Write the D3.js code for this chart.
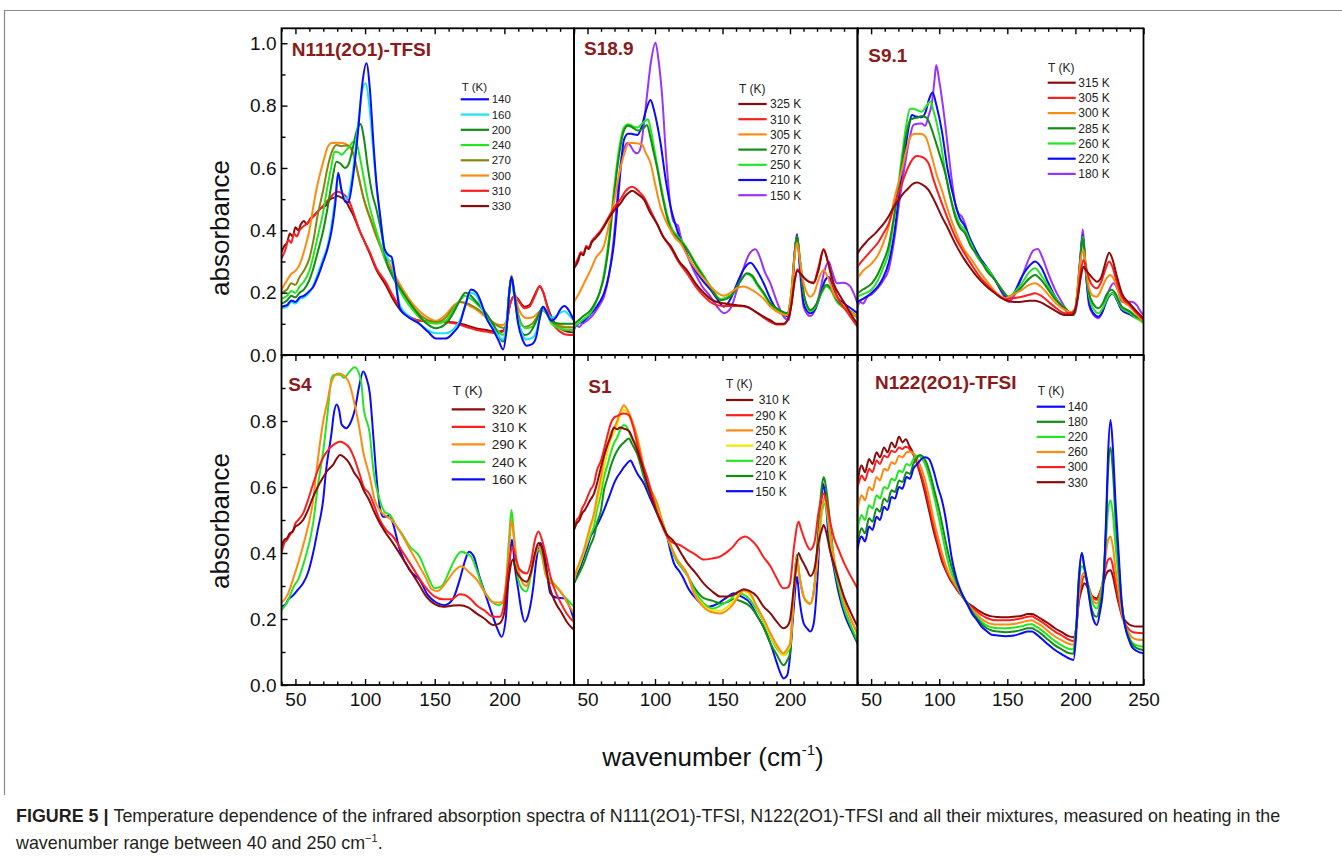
<!DOCTYPE html>
<html><head><meta charset="utf-8">
<script src="https://cdn.jsdelivr.net/npm/d3@7"></script>
<style>
body{margin:0;background:#fff}
svg{display:block}
text{font-family:"Liberation Sans",Arial,Helvetica,sans-serif}
</style>
</head><body>
<svg id="chart" width="1342" height="858"></svg>
<script>
// ---------------- DATA (wavenumber cm^-1, absorbance) ----------------
// Panel 1: N111(2O1)-TFSI
const n111Temps = ["140","160","200","240","270","300","310","330"];
const n111_140 = [[40,0.155],[44,0.16],[47,0.175],[50,0.17],[53,0.185],[56,0.19],[60,0.205],[63,0.22],[66,0.25],[70,0.30],[73,0.34],[76,0.40],[78.5,0.48],[80.7,0.585],[83,0.53],[86,0.49],[88,0.49],[91,0.56],[95,0.72],[98,0.87],[101,0.936],[103.5,0.85],[106,0.68],[108,0.56],[111,0.44],[114,0.34],[117,0.32],[119,0.315],[121,0.27],[124.9,0.15],[130,0.125],[139,0.10],[145,0.075],[151,0.053],[158,0.053],[164,0.075],[168,0.10],[172,0.16],[176,0.21],[180,0.20],[184,0.16],[187,0.12],[192,0.08],[196,0.045],[199,0.018],[201.5,0.08],[203.5,0.2],[205.1,0.25],[207,0.2],[209.9,0.10],[213,0.05],[215.8,0.03],[220,0.035],[223,0.06],[225.5,0.12],[227.8,0.155],[230,0.14],[233.8,0.11],[237,0.12],[240,0.145],[243.3,0.157],[246,0.145],[250,0.11]];
const n111_160 = [[40,0.15],[44,0.155],[47,0.17],[50,0.165],[53,0.18],[56,0.185],[60,0.2],[63,0.225],[66,0.26],[70,0.31],[73,0.35],[76,0.42],[78.5,0.5],[80.7,0.58],[83,0.53],[86,0.50],[88,0.51],[91,0.58],[95,0.74],[98,0.85],[100.5,0.872],[103,0.8],[106,0.65],[108,0.55],[111,0.44],[114,0.34],[117,0.305],[119,0.30],[121,0.26],[125,0.16],[130,0.13],[139,0.10],[145,0.08],[151,0.07],[158,0.07],[164,0.085],[168,0.11],[172,0.16],[176,0.20],[180,0.19],[184,0.15],[187,0.12],[192,0.085],[196,0.06],[199,0.05],[201.5,0.1],[203.5,0.2],[205.1,0.24],[207,0.19],[209.9,0.11],[213,0.065],[215.8,0.05],[220,0.055],[223,0.075],[225.5,0.12],[227.8,0.15],[230,0.14],[233.8,0.12],[237,0.125],[240,0.135],[243.3,0.14],[246,0.13],[250,0.11]];
const n111_200 = [[40,0.165],[44,0.175],[47,0.19],[50,0.185],[53,0.2],[56,0.21],[60,0.24],[63,0.28],[66,0.33],[70,0.40],[73,0.47],[76,0.55],[79.5,0.62],[82,0.615],[85.5,0.60],[88,0.61],[91,0.66],[94,0.72],[96.9,0.741],[99,0.7],[102,0.6],[105,0.52],[108,0.47],[111,0.41],[115.4,0.30],[120,0.25],[127.3,0.20],[135,0.15],[142,0.11],[151,0.086],[158,0.1],[164,0.14],[168,0.175],[172,0.20],[176,0.19],[180,0.17],[187,0.134],[193,0.09],[199,0.043],[201.5,0.08],[203.5,0.2],[205.1,0.251],[207,0.2],[210,0.11],[214.6,0.064],[218,0.07],[222,0.1],[225.5,0.14],[227.8,0.155],[230,0.14],[234,0.11],[240,0.10],[245,0.10],[250,0.10]];
const n111_240 = [[40,0.18],[44,0.19],[47,0.205],[50,0.2],[53,0.22],[56,0.235],[60,0.27],[63,0.32],[66,0.38],[70,0.46],[73,0.54],[76,0.61],[78,0.652],[81,0.65],[83.1,0.642],[86,0.655],[89,0.67],[91.5,0.684],[93.8,0.68],[96,0.64],[99,0.57],[102,0.5],[106,0.43],[110,0.37],[115,0.30],[120,0.25],[127,0.19],[135,0.14],[142,0.11],[151,0.10],[158,0.11],[164,0.15],[168,0.175],[171.6,0.19],[176,0.18],[180,0.165],[187,0.13],[193,0.09],[199,0.064],[201.5,0.1],[203.5,0.2],[205.1,0.252],[207,0.2],[210,0.12],[215.8,0.086],[220,0.09],[225.5,0.13],[227.8,0.145],[230,0.135],[234,0.10],[240,0.085],[245,0.08],[250,0.08]];
const n111_270 = [[40,0.20],[44,0.21],[47,0.23],[50,0.225],[53,0.25],[56,0.27],[60,0.31],[63,0.37],[66,0.45],[70,0.53],[73,0.60],[76,0.65],[79.5,0.674],[83,0.67],[86,0.672],[89,0.67],[92,0.64],[95,0.58],[98,0.52],[102,0.46],[106,0.41],[110,0.36],[115,0.30],[120,0.26],[127,0.20],[135,0.15],[142,0.12],[151,0.105],[158,0.12],[164,0.155],[168,0.17],[172,0.168],[176,0.16],[180,0.15],[187,0.125],[193,0.1],[201.5,0.086],[203.5,0.2],[205.1,0.251],[207,0.2],[210,0.13],[214.6,0.09],[220,0.1],[225.5,0.135],[227.8,0.144],[230,0.135],[234,0.105],[240,0.09],[245,0.088],[250,0.088]];
const n111_300 = [[40,0.21],[44,0.24],[47,0.26],[50,0.27],[53,0.29],[56,0.33],[60,0.40],[63,0.48],[66,0.55],[70,0.62],[73,0.665],[76,0.68],[80,0.681],[84,0.68],[88,0.672],[91,0.65],[95,0.58],[99,0.5],[103.4,0.44],[108,0.38],[115.4,0.315],[120,0.27],[127.3,0.209],[135,0.16],[142,0.13],[151,0.11],[158,0.13],[164,0.16],[168,0.17],[172,0.165],[176,0.155],[180,0.145],[187,0.12],[194,0.1],[199,0.096],[201.5,0.11],[203.5,0.2],[205.1,0.255],[207,0.21],[210,0.15],[215.8,0.118],[220,0.12],[225.5,0.14],[227.8,0.144],[230,0.135],[234,0.11],[240,0.095],[245,0.09],[250,0.09]];
const n111_310 = [[40,0.31],[43,0.34],[45,0.37],[47,0.36],[49,0.39],[51,0.38],[53,0.40],[55,0.41],[58,0.42],[62,0.44],[66,0.46],[70,0.48],[74,0.50],[77,0.515],[80,0.524],[83,0.52],[86,0.51],[89,0.49],[91.4,0.46],[96,0.40],[100,0.36],[103.4,0.33],[108,0.28],[115.4,0.23],[120,0.19],[127.3,0.14],[133,0.12],[139.3,0.11],[150,0.107],[160,0.104],[166,0.10],[172.8,0.09],[180,0.08],[187,0.075],[194,0.07],[199,0.075],[201.5,0.10],[204,0.16],[207.5,0.19],[210,0.175],[214.6,0.15],[218,0.155],[222,0.19],[225.4,0.221],[228,0.2],[231,0.15],[235,0.10],[240,0.075],[245,0.065],[250,0.064]];
const n111_330 = [[40,0.33],[42,0.35],[44,0.36],[46,0.39],[48,0.38],[50,0.41],[52,0.40],[54,0.42],[56,0.43],[58,0.42],[61,0.44],[64,0.45],[68,0.47],[72,0.48],[75,0.50],[78,0.505],[80,0.51],[83,0.505],[86,0.495],[89,0.47],[91.4,0.45],[96,0.40],[100,0.36],[103.4,0.325],[108,0.275],[115.4,0.22],[120,0.18],[127.3,0.135],[133,0.12],[139.3,0.11],[150,0.108],[160,0.106],[166,0.103],[172.8,0.095],[180,0.085],[187,0.08],[194,0.075],[199,0.078],[201.5,0.10],[204,0.16],[207.5,0.19],[210,0.178],[214.6,0.155],[218,0.16],[222,0.195],[225.4,0.22],[228,0.2],[231,0.155],[235,0.11],[240,0.085],[245,0.075],[250,0.072]];

// Panel 2: S18.9
const s189Temps = ["325 K","310 K","305 K","270 K","250 K","210 K","150 K"];
const s189_325 = [[40,0.278],[43,0.30],[45,0.325],[47,0.32],[49,0.345],[51,0.34],[53,0.36],[56,0.375],[59,0.39],[62,0.41],[66,0.44],[70,0.465],[74.5,0.487],[78,0.51],[81,0.522],[83.1,0.527],[86,0.52],[89,0.51],[92,0.497],[96,0.46],[101.6,0.42],[106,0.38],[111.5,0.35],[118,0.30],[124,0.27],[130,0.23],[136,0.20],[141,0.18],[146,0.17],[152,0.165],[161,0.16],[168,0.155],[174,0.14],[180.5,0.123],[186,0.11],[190,0.10],[195,0.10],[198,0.11],[201,0.16],[203.5,0.24],[205.5,0.27],[208,0.26],[210,0.25],[214,0.235],[217.5,0.23],[221,0.27],[224.9,0.337],[228,0.3],[232.3,0.23],[237,0.19],[242,0.155],[246,0.125],[250,0.10]];
const s189_310 = [[40,0.285],[43,0.31],[45,0.33],[47,0.325],[49,0.35],[51,0.345],[53,0.365],[56,0.38],[59,0.395],[62,0.415],[66,0.445],[70,0.475],[74.5,0.5],[78,0.525],[81,0.537],[83.1,0.54],[86,0.533],[89,0.52],[92,0.505],[96,0.47],[101.6,0.42],[106,0.38],[111.5,0.345],[118,0.295],[124,0.26],[130,0.22],[136,0.19],[141,0.17],[146,0.16],[152,0.157],[161,0.157],[168,0.155],[174,0.14],[180.5,0.12],[186,0.105],[190,0.098],[195,0.098],[198,0.11],[201,0.16],[203.5,0.24],[205.5,0.275],[208,0.26],[210,0.25],[214,0.235],[217.5,0.233],[221,0.28],[224.9,0.34],[228,0.3],[232.3,0.22],[237,0.17],[242,0.14],[246,0.115],[250,0.09]];
const s189_305 = [[40,0.17],[44,0.2],[47.4,0.23],[52,0.27],[56,0.31],[62.2,0.35],[66,0.42],[69.6,0.49],[72.1,0.55],[75,0.61],[77.5,0.65],[80.7,0.68],[84,0.68],[88,0.678],[90.5,0.674],[93,0.65],[96.7,0.615],[100,0.55],[104,0.476],[107,0.44],[111.5,0.40],[115,0.375],[118.9,0.358],[125,0.31],[131.2,0.27],[136,0.245],[141.1,0.22],[146,0.2],[151,0.19],[156,0.2],[161,0.215],[165.7,0.22],[170,0.213],[175.6,0.198],[180.5,0.18],[185.5,0.155],[190,0.14],[195,0.13],[198,0.128],[201,0.2],[203.5,0.32],[205.2,0.36],[207.5,0.3],[210.1,0.23],[213,0.195],[215,0.187],[218,0.2],[221,0.24],[224.9,0.273],[228,0.25],[232.3,0.198],[237,0.17],[242,0.15],[246,0.135],[250,0.123]];
const s189_270 = [[40,0.10],[43,0.11],[47,0.125],[52.3,0.144],[56,0.17],[59,0.2],[62.2,0.25],[66,0.36],[69.6,0.51],[73,0.63],[77,0.72],[80,0.735],[82,0.733],[84,0.728],[87,0.72],[89.5,0.722],[92,0.73],[94,0.738],[96.5,0.7],[99,0.65],[101.6,0.60],[105,0.52],[109,0.44],[112,0.40],[116,0.38],[120,0.36],[124,0.337],[130,0.29],[136,0.25],[142,0.21],[148.5,0.176],[153,0.18],[158,0.198],[163,0.235],[168,0.262],[172,0.255],[175.6,0.23],[180.5,0.2],[185.5,0.166],[192,0.145],[197.8,0.134],[201,0.2],[203.5,0.33],[205.2,0.38],[207.5,0.3],[210.1,0.198],[213,0.155],[215,0.144],[219,0.16],[223,0.2],[227,0.225],[230,0.215],[234.8,0.176],[240,0.155],[245,0.14],[250,0.123]];
const s189_250 = [[40,0.09],[43,0.1],[47,0.115],[52.3,0.135],[56,0.165],[59,0.2],[62.2,0.26],[66,0.38],[69.6,0.53],[73,0.65],[77,0.73],[80,0.74],[82,0.738],[84,0.732],[87,0.73],[90,0.74],[93,0.752],[94.7,0.756],[97,0.72],[99.5,0.66],[101.6,0.61],[105,0.53],[109,0.45],[112,0.41],[116,0.385],[120,0.365],[124,0.34],[130,0.295],[136,0.255],[142,0.215],[148.5,0.18],[153,0.185],[158,0.2],[163,0.235],[168,0.26],[172,0.25],[175.6,0.225],[180.5,0.195],[185.5,0.16],[192,0.14],[197.8,0.13],[201,0.2],[203.5,0.33],[205.2,0.38],[207.5,0.3],[210.1,0.2],[213,0.15],[215,0.14],[219,0.155],[223,0.195],[227,0.22],[230,0.21],[234.8,0.17],[240,0.15],[245,0.135],[250,0.12]];
const s189_210 = [[40,0.09],[43,0.1],[47.4,0.11],[52,0.13],[56,0.15],[59,0.17],[62.2,0.198],[66,0.26],[69.6,0.358],[73,0.52],[77,0.69],[80,0.71],[82,0.71],[84,0.708],[86.8,0.706],[90,0.73],[93,0.78],[96.7,0.818],[99,0.79],[101.6,0.74],[104.1,0.68],[108,0.56],[111.5,0.476],[115,0.42],[118.9,0.369],[123,0.33],[128.8,0.28],[135,0.24],[141.1,0.21],[146,0.18],[151,0.155],[156,0.18],[160.8,0.23],[165.7,0.275],[170.7,0.296],[175.6,0.27],[180.5,0.23],[185.5,0.18],[190.4,0.144],[195,0.13],[199,0.123],[201.5,0.2],[203.5,0.33],[205.2,0.385],[207.5,0.28],[210.1,0.166],[213,0.14],[215,0.134],[219,0.15],[223,0.2],[226,0.24],[228.6,0.25],[231,0.23],[234.8,0.187],[240,0.165],[245,0.15],[250,0.134]];
const s189_150 = [[40,0.08],[42,0.095],[44,0.09],[46,0.1],[48,0.105],[52.3,0.12],[56,0.14],[59,0.16],[62.2,0.187],[66,0.26],[69.6,0.38],[72,0.5],[74.5,0.615],[77,0.66],[79.4,0.68],[82,0.67],[84,0.655],[86.8,0.647],[89,0.66],[91.5,0.73],[94,0.83],[97,0.94],[100.4,1.002],[102.5,0.95],[105.3,0.83],[108,0.65],[111.5,0.476],[113.5,0.43],[115.5,0.42],[117,0.415],[119,0.38],[123,0.33],[128.8,0.27],[135,0.22],[141.1,0.187],[146,0.155],[151,0.134],[156,0.15],[160.8,0.21],[165.7,0.28],[170,0.325],[174.4,0.339],[178,0.31],[181,0.27],[185.5,0.23],[190.4,0.17],[195.3,0.123],[199,0.112],[201.5,0.2],[203.5,0.33],[205.2,0.388],[207.5,0.26],[210.1,0.155],[213,0.13],[215,0.125],[219,0.15],[222,0.2],[225.5,0.27],[228.6,0.30],[231,0.27],[234.8,0.23],[239.7,0.232],[244.6,0.22],[247,0.2],[250,0.166]];

// Panel 3: S9.1
const s91Temps = ["315 K","305 K","300 K","285 K","260 K","220 K","180 K"];
const s91_315 = [[40,0.326],[43,0.345],[46,0.36],[48,0.37],[50.5,0.38],[53,0.39],[56,0.405],[59,0.42],[62.8,0.444],[66,0.47],[70.1,0.497],[74,0.52],[77.4,0.535],[80,0.547],[83.6,0.553],[87,0.548],[92.1,0.53],[97,0.49],[101.9,0.444],[106,0.41],[111.7,0.358],[118,0.31],[123.9,0.273],[130,0.24],[136.2,0.214],[142,0.195],[148.4,0.176],[155,0.17],[160.7,0.171],[166,0.174],[170.4,0.174],[175,0.168],[180.2,0.155],[186,0.14],[192.5,0.128],[197,0.128],[199.8,0.144],[202,0.19],[204,0.25],[205.9,0.283],[208,0.27],[209.6,0.262],[213,0.245],[215.7,0.235],[219,0.25],[222,0.295],[224.8,0.328],[227,0.31],[230,0.26],[234.1,0.198],[240,0.165],[244,0.145],[248.8,0.123],[250,0.118]];
const s91_305 = [[40,0.283],[43,0.30],[46,0.315],[50.5,0.337],[55,0.36],[59,0.39],[62.8,0.42],[67,0.48],[72.6,0.55],[77,0.6],[80,0.625],[83.6,0.638],[87,0.636],[92.1,0.615],[96,0.56],[101.9,0.487],[106,0.44],[111.7,0.38],[118,0.33],[123.9,0.289],[130,0.25],[136.2,0.22],[142,0.195],[148.4,0.179],[155,0.183],[160.7,0.187],[166,0.193],[170.4,0.198],[175,0.19],[180.2,0.171],[186,0.15],[192.5,0.134],[197,0.135],[199.8,0.145],[202,0.2],[204,0.27],[205.9,0.305],[208,0.28],[210,0.245],[213,0.22],[215.7,0.214],[219,0.235],[222,0.275],[224.8,0.30],[227,0.285],[230,0.24],[234.1,0.187],[240,0.16],[244,0.14],[248.8,0.118],[250,0.112]];
const s91_300 = [[40,0.246],[44,0.27],[50.5,0.294],[55,0.32],[59,0.36],[62.8,0.41],[67,0.5],[72.6,0.594],[76,0.66],[79.9,0.706],[83,0.71],[87.2,0.709],[90,0.7],[94.6,0.636],[98,0.58],[101.9,0.53],[106,0.47],[111.7,0.40],[118,0.34],[123.9,0.305],[130,0.265],[136.2,0.23],[142,0.2],[148.4,0.182],[155,0.195],[160.7,0.209],[166,0.225],[170.4,0.23],[175,0.218],[180.2,0.193],[186,0.165],[192.5,0.144],[197,0.138],[199.8,0.15],[202,0.23],[204,0.31],[205.9,0.337],[208,0.27],[210,0.215],[213,0.19],[215.7,0.187],[219,0.21],[222,0.24],[225.5,0.257],[228,0.245],[231,0.21],[234.1,0.176],[240,0.155],[244,0.135],[248.8,0.112],[250,0.108]];
const s91_285 = [[40,0.198],[44,0.21],[50.5,0.23],[55,0.26],[59,0.3],[62.8,0.348],[67,0.45],[72.6,0.615],[75.5,0.7],[78.7,0.754],[82,0.76],[84.5,0.762],[87.2,0.767],[90.9,0.76],[94,0.73],[97,0.69],[100.5,0.64],[104.4,0.583],[108,0.51],[111.7,0.444],[115,0.41],[119,0.39],[123,0.35],[128.8,0.316],[135,0.27],[141.1,0.24],[146,0.21],[150.9,0.187],[155,0.195],[160.7,0.219],[166,0.245],[170.4,0.257],[175,0.24],[180.2,0.209],[186,0.175],[192.5,0.15],[198.6,0.128],[201,0.18],[203.5,0.3],[205.4,0.374],[207.5,0.29],[210,0.2],[213,0.165],[216.9,0.15],[220,0.165],[223,0.195],[226.7,0.209],[229,0.2],[234.1,0.155],[240,0.14],[244,0.125],[248.8,0.112],[250,0.105]];
const s91_260 = [[40,0.187],[44,0.195],[50.5,0.21],[55,0.24],[59,0.28],[62.8,0.326],[67,0.44],[72.6,0.636],[75.5,0.73],[78.7,0.79],[81,0.79],[84,0.785],[87.2,0.78],[90,0.795],[93.4,0.813],[96,0.78],[100.7,0.69],[104,0.6],[108,0.51],[111.7,0.455],[115,0.42],[119,0.40],[123,0.36],[128.8,0.31],[136.2,0.273],[141.1,0.24],[146,0.21],[150.9,0.187],[155,0.2],[160.7,0.23],[166,0.265],[170.4,0.278],[175,0.255],[180.2,0.219],[186,0.18],[192.5,0.15],[198.6,0.128],[201,0.18],[203.5,0.3],[205.4,0.38],[207.5,0.28],[210,0.19],[213,0.15],[216.9,0.134],[220,0.15],[223,0.18],[226.7,0.198],[229,0.19],[234.1,0.15],[240,0.135],[244,0.12],[248.8,0.107],[250,0.102]];
const s91_220 = [[40,0.171],[44,0.18],[50.5,0.2],[55,0.22],[59,0.25],[62.8,0.294],[67,0.39],[72,0.57],[75,0.658],[78,0.74],[79.9,0.77],[83,0.765],[87.2,0.763],[90,0.78],[92.5,0.82],[95.1,0.842],[98,0.8],[101.9,0.72],[106,0.6],[111.7,0.487],[115,0.44],[119,0.412],[123,0.37],[128.8,0.32],[136.2,0.273],[141.1,0.24],[146,0.205],[150.9,0.182],[155,0.2],[160.7,0.251],[166,0.285],[170.4,0.30],[175,0.28],[180.2,0.23],[186,0.18],[192.5,0.144],[198.6,0.128],[201,0.18],[203.5,0.31],[205.4,0.385],[207.5,0.27],[210,0.17],[213,0.135],[216.9,0.123],[220,0.14],[223,0.175],[227.2,0.198],[230,0.18],[234.1,0.144],[240,0.13],[244,0.12],[248.8,0.112],[250,0.108]];
const s91_180 = [[40,0.155],[42,0.17],[44,0.165],[47,0.185],[50.5,0.195],[55,0.215],[59,0.24],[62.8,0.273],[67,0.37],[71,0.5],[75,0.615],[78,0.69],[81.1,0.738],[84,0.742],[87.2,0.743],[89.7,0.735],[92,0.765],[94.6,0.807],[96.5,0.88],[97.8,0.93],[100,0.88],[103.1,0.786],[106,0.68],[109,0.57],[111.7,0.487],[114,0.455],[116.6,0.444],[119,0.42],[121.5,0.38],[128.8,0.31],[136.2,0.273],[141.1,0.24],[146,0.2],[150.9,0.171],[155,0.19],[160.7,0.25],[166,0.31],[169,0.335],[172.4,0.34],[176,0.31],[180.2,0.26],[185.1,0.209],[190,0.17],[194.9,0.139],[199.8,0.134],[202,0.2],[204,0.33],[205.4,0.403],[207.5,0.28],[210,0.16],[213,0.13],[216.9,0.118],[220,0.14],[224,0.2],[228,0.23],[231,0.21],[234.1,0.171],[238,0.17],[241.4,0.171],[245,0.16],[248.8,0.134],[250,0.13]];

// Panel 4: S4
const s4Temps = ["320 K","310 K","290 K","240 K","160 K"];
const s4_320 = [[40,0.42],[42,0.44],[44,0.445],[46,0.46],[48,0.465],[50,0.48],[52,0.485],[55.5,0.5],[59,0.53],[62.7,0.57],[66,0.6],[70,0.63],[73,0.65],[77,0.667],[79.5,0.685],[82,0.697],[85,0.69],[89,0.67],[92,0.645],[96,0.62],[99,0.59],[103,0.56],[106,0.53],[110.6,0.49],[115,0.46],[120,0.43],[126,0.39],[132,0.35],[138,0.31],[144,0.268],[150,0.245],[156,0.237],[162,0.24],[168,0.242],[174,0.235],[180,0.217],[186,0.2],[192,0.182],[196.7,0.187],[200,0.22],[203,0.32],[206,0.38],[208.5,0.345],[211,0.328],[216,0.313],[219,0.34],[222,0.4],[224.5,0.43],[227,0.415],[230,0.35],[233,0.29],[237,0.247],[241,0.22],[245,0.19],[250,0.167]];
const s4_310 = [[40,0.40],[42,0.43],[44,0.44],[46,0.455],[48,0.465],[50,0.49],[52,0.5],[55.5,0.52],[59,0.56],[62.7,0.61],[66,0.65],[70,0.69],[74,0.715],[78,0.73],[82,0.737],[85,0.733],[89,0.717],[92,0.69],[96,0.64],[99,0.6],[103,0.58],[106,0.55],[110.6,0.5],[115,0.47],[120,0.45],[126,0.41],[132,0.37],[138,0.33],[144,0.293],[150,0.268],[156,0.26],[162,0.26],[168,0.275],[172,0.272],[176,0.26],[180,0.242],[186,0.225],[192,0.207],[196.7,0.207],[200,0.25],[203,0.36],[206,0.42],[208.5,0.38],[211,0.35],[216,0.338],[219,0.37],[222,0.44],[224.5,0.465],[227,0.44],[230,0.39],[233,0.33],[237,0.28],[241,0.245],[245,0.215],[250,0.19]];
const s4_290 = [[40,0.25],[44,0.27],[49,0.33],[52,0.37],[56,0.43],[62.7,0.56],[66,0.68],[70,0.8],[73,0.86],[76,0.92],[80.7,0.944],[84,0.94],[86,0.934],[89,0.91],[92,0.86],[95,0.8],[99,0.7],[103.4,0.63],[107,0.56],[110.6,0.53],[114,0.515],[119,0.5],[125,0.465],[131,0.42],[137,0.375],[143,0.33],[148,0.29],[152,0.285],[158,0.31],[163,0.34],[169,0.36],[175,0.34],[180,0.32],[186,0.28],[192,0.25],[198,0.25],[201,0.3],[203.5,0.42],[205,0.5],[207,0.44],[209.5,0.36],[213,0.31],[215.8,0.30],[219,0.34],[222,0.39],[224.5,0.42],[227,0.4],[230,0.33],[233,0.31],[237,0.3],[241,0.28],[245,0.25],[250,0.217]];
const s4_240 = [[40,0.227],[44,0.25],[49,0.3],[52,0.32],[56,0.37],[62.7,0.49],[66,0.6],[70,0.71],[73,0.82],[76,0.93],[78,0.94],[82,0.94],[85,0.93],[88,0.945],[92.6,0.963],[97,0.924],[99,0.84],[103.4,0.76],[106,0.65],[110.6,0.56],[114,0.525],[118,0.515],[122,0.485],[127,0.455],[132,0.42],[139,0.39],[145,0.33],[150,0.293],[155,0.3],[161,0.35],[165,0.385],[169,0.404],[172,0.4],[176,0.39],[180,0.35],[185,0.29],[190,0.258],[196,0.242],[199,0.25],[201,0.3],[203.5,0.45],[205.1,0.53],[207,0.45],[209.5,0.328],[213,0.29],[215.8,0.283],[219,0.33],[222,0.39],[224.5,0.41],[227,0.39],[230,0.33],[233,0.32],[237,0.3],[241,0.278],[245,0.26],[250,0.237]];
const s4_160 = [[40,0.237],[43,0.245],[45,0.26],[48,0.27],[52,0.29],[55.5,0.308],[59,0.34],[62.7,0.40],[66,0.47],[69.9,0.56],[72,0.65],[75.9,0.763],[77.5,0.82],[79.5,0.85],[81.5,0.83],[83.1,0.79],[86.6,0.778],[89,0.79],[92.6,0.833],[96,0.91],[98.6,0.95],[101,0.93],[103.4,0.884],[106,0.75],[108.2,0.63],[111,0.53],[113,0.51],[115.4,0.51],[117.5,0.515],[120,0.49],[124.9,0.41],[132,0.348],[139.3,0.318],[145,0.273],[151,0.25],[157,0.242],[163,0.26],[168,0.32],[172,0.38],[174.5,0.404],[178,0.39],[182,0.33],[186,0.28],[191,0.217],[195,0.17],[198,0.146],[201,0.2],[203,0.33],[205.5,0.44],[207.5,0.36],[210,0.288],[212.5,0.22],[214.6,0.192],[217,0.21],[220.5,0.288],[223,0.38],[226,0.43],[229,0.39],[233,0.278],[237,0.265],[243,0.263],[247,0.235],[250,0.197]];

// Panel 5: S1
const s1Temps = ["\u00a0310 K","290 K","250 K","240 K","220 K","210 K","150 K"];
const s1_310 = [[40,0.47],[42,0.49],[44,0.5],[46,0.52],[48,0.53],[50,0.545],[52,0.56],[54.8,0.58],[57,0.61],[60,0.66],[62,0.69],[65,0.73],[67,0.75],[69.6,0.78],[72,0.775],[74,0.78],[77,0.777],[80.7,0.77],[84,0.74],[86.8,0.712],[90,0.67],[94.2,0.61],[98,0.56],[101.6,0.52],[105,0.49],[109,0.455],[113,0.44],[116.4,0.42],[120,0.395],[123.8,0.37],[130,0.34],[136,0.308],[142,0.285],[148.5,0.268],[154,0.268],[158,0.273],[162,0.283],[165.7,0.29],[170,0.285],[175.6,0.268],[180,0.24],[185.5,0.217],[190,0.193],[195,0.172],[198,0.178],[200,0.197],[203,0.3],[206.4,0.40],[208,0.385],[210,0.37],[213,0.345],[215,0.33],[218,0.35],[221,0.43],[223.5,0.47],[225,0.485],[227,0.46],[229.5,0.41],[232.3,0.37],[236,0.32],[240,0.268],[245,0.22],[250,0.177]];
const s1_290 = [[40,0.47],[42,0.5],[44,0.51],[46,0.535],[48,0.55],[50,0.57],[52,0.59],[54.8,0.61],[57,0.65],[60,0.68],[62,0.71],[65,0.76],[67,0.79],[69.6,0.81],[72,0.815],[74,0.82],[77,0.823],[80.7,0.818],[84,0.78],[86.8,0.732],[90,0.68],[94.2,0.63],[98,0.575],[101.6,0.52],[105,0.485],[109,0.45],[112,0.435],[114,0.43],[118,0.425],[123.8,0.41],[130,0.395],[136,0.38],[142,0.383],[148.5,0.39],[154,0.405],[158,0.42],[162,0.44],[167,0.45],[171,0.44],[175.6,0.42],[180,0.39],[185.5,0.36],[190,0.325],[195,0.293],[198,0.295],[200,0.308],[203,0.42],[206.4,0.495],[208,0.475],[210,0.45],[213,0.42],[215,0.41],[218,0.43],[221,0.52],[223.5,0.57],[225,0.58],[227,0.555],[229.5,0.5],[232.3,0.45],[236,0.41],[240,0.37],[245,0.33],[250,0.293]];
const s1_250 = [[40,0.318],[42,0.35],[44,0.37],[47.4,0.41],[50,0.45],[52,0.48],[54.8,0.52],[57,0.57],[60,0.63],[62.2,0.69],[65,0.73],[67,0.76],[69.6,0.78],[72,0.8],[74.5,0.83],[77,0.848],[79.4,0.835],[81.9,0.813],[86.8,0.753],[91.8,0.66],[96,0.6],[101.6,0.55],[105,0.5],[109,0.45],[113,0.41],[116.4,0.38],[120,0.36],[123.8,0.338],[128.8,0.278],[134,0.245],[141.1,0.222],[148.5,0.217],[153,0.225],[158.3,0.247],[162,0.27],[165.7,0.288],[170,0.28],[175.6,0.237],[180.5,0.2],[185.5,0.157],[190.4,0.12],[195.3,0.096],[198,0.11],[200,0.126],[203,0.29],[205,0.38],[207,0.33],[210.1,0.268],[213,0.25],[215,0.247],[218,0.29],[221,0.42],[223.5,0.53],[226,0.57],[228,0.52],[230,0.45],[232.3,0.39],[236,0.32],[239.7,0.258],[245,0.2],[250,0.157]];
const s1_240 = [[40,0.318],[42,0.345],[44,0.365],[47.4,0.405],[50,0.44],[52,0.47],[54.8,0.51],[57,0.55],[60,0.61],[62.2,0.66],[65,0.71],[67,0.74],[69.6,0.765],[72,0.79],[74.5,0.82],[77,0.833],[79.4,0.825],[81.9,0.805],[86.8,0.745],[91.8,0.65],[96,0.6],[101.6,0.55],[105,0.5],[109,0.45],[113,0.41],[116.4,0.38],[120,0.36],[123.8,0.335],[128.8,0.28],[134,0.25],[141.1,0.227],[148.5,0.225],[153,0.235],[158.3,0.255],[162,0.275],[165.7,0.283],[170,0.275],[175.6,0.235],[180.5,0.195],[185.5,0.15],[190.4,0.115],[195.3,0.09],[198,0.105],[200,0.12],[203,0.29],[205,0.385],[207,0.33],[210.1,0.268],[213,0.25],[215,0.247],[218,0.29],[221,0.42],[223.5,0.53],[226,0.57],[228,0.52],[230,0.45],[232.3,0.39],[236,0.32],[239.7,0.258],[245,0.2],[250,0.152]];
const s1_220 = [[40,0.328],[44,0.36],[47.4,0.4],[50,0.43],[52.3,0.455],[54.8,0.48],[57,0.53],[60,0.58],[62.2,0.63],[65,0.67],[67,0.7],[69.6,0.732],[72,0.75],[74.5,0.775],[77,0.788],[79.4,0.78],[81.9,0.755],[86.8,0.722],[91.8,0.64],[96,0.59],[101.6,0.54],[105,0.5],[109,0.45],[113,0.405],[116.4,0.374],[120,0.355],[123.8,0.333],[130,0.28],[136.2,0.247],[143,0.232],[150,0.245],[156,0.26],[160.8,0.278],[165,0.275],[170,0.26],[175.6,0.227],[180.5,0.19],[185.5,0.146],[190.4,0.11],[195.3,0.09],[198,0.1],[200,0.116],[203,0.3],[205,0.39],[207,0.33],[210.1,0.268],[213,0.25],[215,0.247],[218,0.29],[221,0.42],[223.5,0.52],[226,0.55],[228,0.5],[230,0.43],[232.3,0.37],[236,0.3],[239.7,0.237],[245,0.18],[250,0.136]];
const s1_210 = [[40,0.308],[44,0.34],[47.4,0.37],[50,0.4],[52.3,0.425],[54.8,0.45],[57,0.49],[60,0.53],[62.2,0.59],[65,0.63],[67,0.66],[69.6,0.69],[72,0.71],[74.5,0.725],[77,0.735],[80.7,0.747],[83,0.73],[86.8,0.70],[91.8,0.63],[96,0.58],[101.6,0.54],[105,0.5],[109,0.45],[113,0.405],[116.4,0.374],[120,0.355],[123.8,0.333],[130,0.29],[136.2,0.263],[143,0.255],[148.5,0.247],[154,0.252],[158.3,0.26],[163,0.255],[170.7,0.237],[175.6,0.21],[180.5,0.175],[185.5,0.126],[190.4,0.09],[195.3,0.06],[198,0.075],[200,0.096],[203,0.3],[205,0.394],[207,0.33],[210.1,0.268],[213,0.25],[215,0.247],[218,0.3],[221,0.47],[223.5,0.6],[225,0.63],[227,0.59],[229.5,0.5],[232.3,0.39],[236,0.3],[239.7,0.237],[245,0.18],[250,0.126]];
const s1_150 = [[40,0.308],[42,0.33],[44,0.35],[47.4,0.39],[50,0.42],[52.3,0.45],[55,0.47],[59,0.5],[62.2,0.53],[66,0.57],[69.6,0.61],[72,0.63],[74.5,0.645],[77,0.66],[79,0.67],[81.9,0.68],[84,0.665],[87,0.64],[91.8,0.61],[96,0.57],[101.6,0.52],[105,0.49],[109,0.45],[111.5,0.405],[113.9,0.37],[118,0.345],[120.5,0.328],[125,0.29],[131.2,0.258],[138.6,0.237],[143,0.24],[148.5,0.252],[153,0.265],[158.3,0.278],[163,0.27],[170.7,0.247],[175.6,0.21],[180.5,0.175],[185.5,0.126],[190,0.07],[193,0.035],[195.3,0.02],[198,0.03],[200,0.086],[202.5,0.22],[205.2,0.328],[207,0.26],[210.1,0.187],[213,0.17],[215,0.162],[217.5,0.185],[220,0.3],[222.5,0.5],[224.5,0.61],[226,0.58],[228.5,0.45],[232.3,0.358],[236,0.28],[241,0.207],[245,0.17],[250,0.126]];

// Panel 6: N122(2O1)-TFSI
const n122Temps = ["140","180","220","260","300","330"];
const n122_140 = [[40,0.41],[41.5,0.44],[43,0.45],[45.5,0.435],[48.5,0.48],[51,0.47],[54,0.51],[56.5,0.50],[59.5,0.54],[62,0.53],[65,0.57],[67.5,0.565],[70.5,0.6],[73,0.595],[76,0.63],[78.5,0.625],[81,0.655],[84,0.67],[87,0.685],[89.7,0.69],[92.5,0.685],[95.8,0.65],[99,0.6],[102,0.56],[104.5,0.51],[106.8,0.45],[109,0.39],[111.7,0.338],[114,0.305],[116.6,0.278],[120,0.25],[124,0.217],[128,0.195],[131,0.177],[135,0.163],[138.6,0.152],[143,0.15],[148.4,0.148],[155,0.15],[160.7,0.157],[165,0.162],[168,0.162],[171,0.155],[175,0.141],[180,0.123],[185,0.106],[190,0.093],[195,0.081],[198.6,0.076],[200.5,0.15],[202.5,0.32],[204.7,0.40],[206.5,0.36],[208.4,0.318],[210,0.27],[212,0.217],[214,0.19],[215.7,0.182],[218,0.22],[220.6,0.308],[222.5,0.5],[224,0.7],[225.8,0.803],[227.5,0.72],[229.5,0.55],[231.6,0.41],[234,0.25],[236.5,0.177],[239,0.14],[241.4,0.116],[245,0.103],[250,0.096]];
const n122_180 = [[40,0.43],[41.5,0.46],[43,0.475],[45.5,0.46],[48.5,0.505],[51,0.495],[54,0.535],[56.5,0.525],[59.5,0.565],[62,0.555],[65,0.59],[67.5,0.585],[70.5,0.62],[73,0.615],[76,0.645],[78.5,0.64],[81,0.67],[84,0.69],[86,0.697],[88.5,0.69],[91,0.67],[94,0.63],[97,0.58],[100,0.53],[103,0.47],[106,0.41],[109,0.36],[111.7,0.325],[114,0.3],[116.6,0.275],[120,0.25],[124,0.222],[128,0.2],[131,0.185],[135,0.172],[138.6,0.165],[143,0.162],[148.4,0.16],[155,0.162],[160.7,0.167],[165,0.172],[168,0.172],[171,0.166],[175,0.155],[180,0.137],[185,0.12],[190,0.108],[195,0.097],[198.6,0.095],[200.5,0.17],[202.5,0.32],[204.7,0.40],[206.5,0.36],[208.4,0.315],[210,0.27],[212,0.23],[214,0.21],[215.7,0.207],[218,0.24],[220.6,0.32],[222.5,0.48],[224,0.65],[225.8,0.72],[227.5,0.65],[229.5,0.5],[231.6,0.38],[234,0.25],[236.5,0.18],[239,0.145],[241.4,0.125],[245,0.112],[250,0.106]];
const n122_220 = [[40,0.47],[41.5,0.5],[43,0.515],[45.5,0.5],[48.5,0.545],[51,0.535],[54,0.575],[56.5,0.565],[59.5,0.6],[62,0.595],[65,0.625],[67.5,0.62],[70.5,0.65],[73,0.645],[76,0.67],[78.5,0.665],[81,0.685],[83,0.695],[85,0.695],[87.5,0.685],[90,0.665],[93,0.625],[96,0.575],[99,0.52],[102,0.46],[105,0.4],[108,0.35],[111.7,0.315],[114,0.295],[116.6,0.273],[120,0.25],[124,0.225],[128,0.205],[131,0.192],[135,0.18],[138.6,0.175],[143,0.172],[148.4,0.172],[155,0.174],[160.7,0.178],[165,0.183],[168,0.184],[171,0.178],[175,0.167],[180,0.15],[185,0.133],[190,0.12],[195,0.11],[198.6,0.108],[200.5,0.17],[202.5,0.3],[204.7,0.36],[206.5,0.35],[208.4,0.32],[210,0.29],[212,0.255],[214,0.237],[215.7,0.232],[218,0.26],[220.6,0.33],[222.5,0.44],[224,0.53],[225.8,0.56],[227.5,0.52],[229.5,0.42],[231.6,0.33],[234,0.24],[236.5,0.18],[239,0.15],[241.4,0.13],[245,0.12],[250,0.116]];
const n122_260 = [[40,0.53],[41.5,0.56],[43,0.575],[45.5,0.56],[48.5,0.6],[51,0.59],[54,0.63],[56.5,0.62],[59.5,0.655],[62,0.65],[65,0.675],[67.5,0.67],[70.5,0.695],[73,0.69],[76,0.705],[78,0.707],[80,0.705],[82,0.698],[84.5,0.68],[87,0.655],[90,0.615],[93,0.56],[96,0.5],[99,0.45],[102,0.4],[105,0.36],[108,0.33],[111.7,0.305],[114,0.29],[116.6,0.27],[120,0.25],[124,0.23],[128,0.213],[131,0.2],[135,0.19],[138.6,0.185],[143,0.183],[148.4,0.183],[155,0.185],[160.7,0.19],[165,0.195],[168,0.196],[171,0.19],[175,0.18],[180,0.163],[185,0.147],[190,0.135],[195,0.125],[198.6,0.122],[200.5,0.17],[202.5,0.27],[204.7,0.328],[206.5,0.34],[208.4,0.32],[210,0.29],[212,0.265],[214,0.25],[215.7,0.247],[218,0.27],[220.6,0.33],[222.5,0.4],[224,0.44],[225.8,0.45],[227.5,0.42],[229.5,0.35],[231.6,0.29],[234,0.22],[236.5,0.18],[239,0.16],[241.4,0.145],[245,0.138],[250,0.136]];
const n122_300 = [[40,0.60],[41.5,0.62],[43,0.635],[45.5,0.62],[48.5,0.655],[51,0.645],[54,0.68],[56.5,0.67],[59.5,0.695],[62,0.69],[65,0.71],[67.5,0.705],[70.5,0.72],[73,0.715],[75,0.722],[77,0.72],[79,0.71],[81.5,0.695],[84,0.67],[87,0.635],[90,0.59],[93,0.535],[96,0.48],[99,0.43],[102,0.385],[105,0.35],[108,0.325],[111.7,0.3],[114,0.285],[116.6,0.27],[120,0.25],[124,0.235],[128,0.222],[131,0.212],[135,0.203],[138.6,0.198],[143,0.196],[148.4,0.196],[155,0.198],[160.7,0.202],[165,0.207],[168,0.208],[171,0.202],[175,0.192],[180,0.177],[185,0.162],[190,0.15],[195,0.138],[198.6,0.133],[200.5,0.17],[202.5,0.26],[204.7,0.31],[206.5,0.33],[208.4,0.315],[210,0.295],[212,0.27],[214,0.26],[215.7,0.258],[218,0.28],[220.6,0.32],[222.5,0.36],[224,0.38],[225.8,0.384],[227.5,0.36],[229.5,0.31],[231.6,0.26],[234,0.21],[236.5,0.185],[239,0.17],[241.4,0.162],[245,0.158],[250,0.157]];
const n122_330 = [[40,0.61],[41.5,0.65],[43,0.665],[45.5,0.645],[48.5,0.685],[51,0.67],[54,0.705],[56.5,0.69],[59.5,0.72],[62,0.705],[65,0.735],[67.5,0.72],[70.5,0.753],[73,0.735],[75.5,0.745],[78,0.725],[80,0.71],[82,0.69],[84.5,0.66],[87,0.625],[90,0.575],[93,0.52],[96,0.465],[99,0.42],[102,0.375],[105,0.345],[108,0.32],[111.7,0.297],[114,0.283],[116.6,0.27],[120,0.252],[124,0.24],[128,0.228],[131,0.22],[135,0.212],[138.6,0.208],[143,0.206],[148.4,0.205],[155,0.207],[160.7,0.21],[165,0.215],[168,0.215],[171,0.21],[175,0.2],[180,0.187],[185,0.172],[190,0.16],[195,0.148],[198.6,0.145],[200.5,0.17],[202.5,0.25],[204.7,0.29],[206.5,0.308],[208.4,0.3],[210,0.285],[212,0.27],[214,0.265],[215.7,0.263],[218,0.28],[220.6,0.31],[222.5,0.335],[224,0.345],[225.8,0.348],[227.5,0.33],[229.5,0.29],[231.6,0.25],[234,0.215],[236.5,0.195],[239,0.185],[241.4,0.18],[245,0.177],[250,0.177]];

// Axis ticks / labels
const xDomain = [40, 250];
const xMajorTicks = [50, 100, 150, 200, 250];
const xMinorTicks = [40, 60, 70, 80, 90, 110, 120, 130, 140, 160, 170, 180, 190, 210, 220, 230, 240];
const xLabelsInner = [50, 100, 150, 200];
const xLabelsLast = [50, 100, 150, 200, 250];
const yLabelsTop = [0, 0.2, 0.4, 0.6, 0.8, 1.0];
const yLabelsBottom = [0, 0.2, 0.4, 0.6, 0.8];
const yMinorTop = [0.1, 0.3, 0.5, 0.7, 0.9];
const yMinorBottom = [0.1, 0.3, 0.5, 0.7, 0.9];

// ---------------- STYLE / LAYOUT ----------------
const C = {blue:"#0a0aff", cyan:"#1ae2f6", dgreen:"#128c12", green:"#22e622", olive:"#86860e",
  orange:"#ff8a10", red:"#ff1e1e", dred:"#8c0a0a", purple:"#9a33ff", yellow:"#f2e600"};
const COLS = [[281.5, 574], [574, 857.5], [857.5, 1143.5]];
const ROWS = [{top:28.3, bot:355, ymax:1.048}, {top:355, bot:685, ymax:1.0}];
const TITLE_COLOR = "#8c1a1a";

const panels = [
  {title:"N111(2O1)-TFSI", col:0, row:0, tx:291.7, ty:56, temps:n111Temps,
   data:[n111_140,n111_160,n111_200,n111_240,n111_270,n111_300,n111_310,n111_330],
   colors:[C.blue,C.cyan,C.dgreen,C.green,C.olive,C.orange,C.red,C.dred],
   lg:{hx:461.7, hy:91, x0:460.7, x1:489, tx:491.7, y0:99.3, dy:15.25, fs:11.5}},
  {title:"S18.9", col:1, row:0, tx:584, ty:55, temps:s189Temps,
   data:[s189_325,s189_310,s189_305,s189_270,s189_250,s189_210,s189_150],
   colors:[C.dred,C.red,C.orange,C.dgreen,C.green,C.blue,C.purple],
   lg:{hx:739, hy:93.3, x0:738.3, x1:766.7, tx:770, y0:104, dy:15.2, fs:12}},
  {title:"S9.1", col:2, row:0, tx:868.3, ty:62, temps:s91Temps,
   data:[s91_315,s91_305,s91_300,s91_285,s91_260,s91_220,s91_180],
   colors:[C.dred,C.red,C.orange,C.dgreen,C.green,C.blue,C.purple],
   lg:{hx:1048, hy:71.7, x0:1047.7, x1:1075.7, tx:1078.3, y0:82.7, dy:15.2, fs:12}},
  {title:"S4", col:0, row:1, tx:288.3, ty:391, temps:s4Temps,
   data:[s4_320,s4_310,s4_290,s4_240,s4_160],
   colors:[C.dred,C.red,C.orange,C.green,C.blue],
   lg:{hx:452.7, hy:395, x0:451.7, x1:485, tx:491.7, y0:409.3, dy:17.5, fs:13.5}},
  {title:"S1", col:1, row:1, tx:588.3, ty:393, temps:s1Temps,
   data:[s1_310,s1_290,s1_250,s1_240,s1_220,s1_210,s1_150],
   colors:[C.dred,C.red,C.orange,C.yellow,C.green,C.dgreen,C.blue],
   lg:{hx:726, hy:388.3, x0:726, x1:753.3, tx:755.3, y0:400, dy:15.2, fs:12}},
  {title:"N122(2O1)-TFSI", col:2, row:1, tx:875, ty:389, temps:n122Temps,
   data:[n122_140,n122_180,n122_220,n122_260,n122_300,n122_330],
   colors:[C.blue,C.dgreen,C.green,C.orange,C.red,C.dred],
   lg:{hx:1037.7, hy:395, x0:1036.7, x1:1065, tx:1067.7, y0:406.7, dy:15.1, fs:12}}
];

const svg = d3.select("#chart");
svg.append("rect").attr("width",1342).attr("height",858).attr("fill","#fff");

// outer figure border (top and left)
svg.append("path").attr("d","M4.5,795 L4.5,10.5 L1342,10.5")
  .attr("fill","none").attr("stroke","#8a8a8a").attr("stroke-width",1.2);

const defs = svg.append("defs");
const fmt = d3.format(".1f");

panels.forEach((p, i) => {
  const [x0, x1] = COLS[p.col];
  const R = ROWS[p.row];
  const x = d3.scaleLinear().domain(xDomain).range([x0, x1]);
  const y = d3.scaleLinear().domain([0, R.ymax]).range([R.bot, R.top]);

  defs.append("clipPath").attr("id","clip"+i).append("rect")
    .attr("x",x0).attr("y",R.top).attr("width",x1-x0).attr("height",R.bot-R.top);

  const line = d3.line().x(d=>x(d[0])).y(d=>y(d[1])).curve(d3.curveMonotoneX);
  const g = svg.append("g").attr("clip-path",`url(#clip${i})`);
  for (let k = p.data.length-1; k >= 0; k--) {
    g.append("path").datum(p.data[k]).attr("d",line)
      .attr("fill","none").attr("stroke",p.colors[k]).attr("stroke-width",2)
      .attr("stroke-linejoin","round");
  }

  // ticks top (pointing down)
  const topG = svg.append("g").attr("transform",`translate(0,${R.top})`);
  topG.call(d3.axisTop(x).tickValues(xMajorTicks).tickSizeInner(-6).tickSizeOuter(0).tickFormat(""));
  topG.append("g").call(d3.axisTop(x).tickValues(xMinorTicks).tickSizeInner(-3.5).tickSizeOuter(0).tickFormat(""));
  // bottom ticks (bottom row only, pointing up)
  if (p.row === 1) {
    const botG = svg.append("g").attr("transform",`translate(0,${R.bot})`);
    botG.call(d3.axisBottom(x).tickValues(p.col===2?xLabelsLast:xLabelsInner)
      .tickSizeInner(-6).tickSizeOuter(0).tickPadding(8));
    botG.append("g").call(d3.axisBottom(x).tickValues(xMinorTicks)
      .tickSizeInner(-3.5).tickSizeOuter(0).tickFormat(""));
    botG.selectAll("text").attr("font-size",19).attr("fill","#111");
  }
  // left y axis (first column)
  if (p.col === 0) {
    const labels = p.row===0 ? yLabelsTop : yLabelsBottom;
    const leftG = svg.append("g").attr("transform",`translate(${x0},0)`);
    leftG.call(d3.axisLeft(y).tickValues(labels).tickSizeInner(-6).tickSizeOuter(0)
      .tickPadding(5).tickFormat(fmt));
    leftG.append("g").call(d3.axisLeft(y).tickValues(p.row===0?yMinorTop:yMinorBottom)
      .tickSizeInner(-4).tickSizeOuter(0).tickFormat(""));
    leftG.selectAll("text").attr("font-size",19).attr("fill","#111");
  }
  svg.selectAll(".domain").remove();
  svg.selectAll(".tick line").attr("stroke","#000").attr("stroke-width",1.4);

  // frame
  svg.append("rect").attr("x",x0).attr("y",R.top).attr("width",x1-x0).attr("height",R.bot-R.top)
    .attr("fill","none").attr("stroke","#000").attr("stroke-width",1.8);

  // panel title
  svg.append("text").attr("x",p.tx).attr("y",p.ty).text(p.title)
    .attr("font-size",19).attr("font-weight","bold").attr("fill",TITLE_COLOR);

  // legend
  const L = p.lg;
  svg.append("text").attr("x",L.hx).attr("y",L.hy).text("T (K)")
    .attr("font-size",L.fs).attr("fill","#222");
  p.temps.forEach((t, k) => {
    const yy = L.y0 + k*L.dy;
    svg.append("line").attr("x1",L.x0).attr("x2",L.x1).attr("y1",yy).attr("y2",yy)
      .attr("stroke",p.colors[k]).attr("stroke-width",2.2);
    svg.append("text").attr("x",L.tx).attr("y",yy).attr("dy","0.36em").text(t)
      .attr("font-size",L.fs).attr("fill","#222");
  });
});

// axis titles
[228, 521].forEach(cy => {
  svg.append("text").attr("transform",`translate(229,${cy}) rotate(-90)`)
    .attr("text-anchor","middle").attr("font-size",26).attr("fill","#111").text("absorbance");
});
const xt = svg.append("text").attr("x",713).attr("y",766).attr("text-anchor","middle")
  .attr("font-size",26).attr("fill","#111");
xt.append("tspan").text("wavenumber (cm");
xt.append("tspan").attr("font-size",15).attr("dy",-11).text("-1");
xt.append("tspan").attr("dy",11).text(")");

// caption
const cap1 = svg.append("text").attr("x",16).attr("y",822).attr("font-size",17.9).attr("fill","#231f20");
cap1.append("tspan").attr("font-weight","bold").text("FIGURE 5 | ");
cap1.append("tspan").text("Temperature dependence of the infrared absorption spectra of N111(2O1)-TFSI, N122(2O1)-TFSI and all their mixtures, measured on heating in the");
const cap2 = svg.append("text").attr("x",16).attr("y",849).attr("font-size",17.9).attr("fill","#231f20");
cap2.append("tspan").text("wavenumber range between 40 and 250 cm");
cap2.append("tspan").attr("font-size",11).attr("dy",-7).text("\u22121");
cap2.append("tspan").attr("dy",7).text(".");
</script>
</body></html>
